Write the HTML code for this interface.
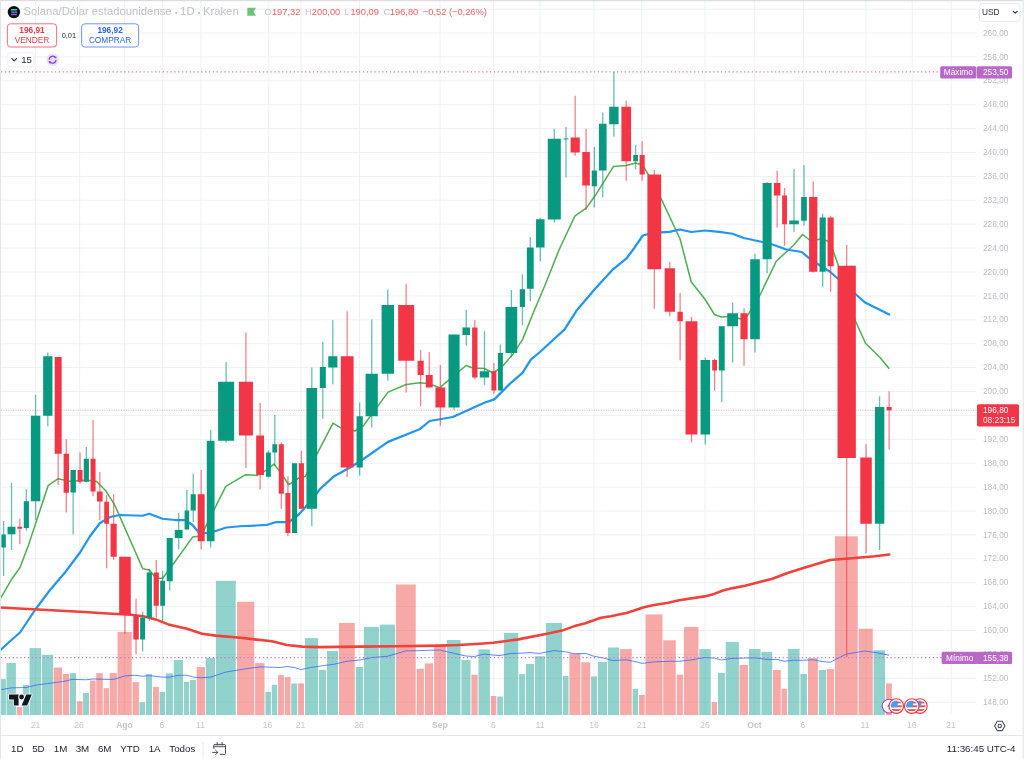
<!DOCTYPE html><html lang="es"><head><meta charset="utf-8"><title>SOLUSD</title>
<style>html,body{margin:0;padding:0;background:#fff;overflow:hidden}body{width:1024px;height:759px;position:relative}svg{position:absolute;left:0;top:0;display:block}text{font-family:"Liberation Sans",Arial,sans-serif}</style></head><body>
<svg width="1024" height="759" viewBox="0 0 1024 759">
<rect width="1024" height="759" fill="#fff"/>
<g stroke="#eef0f4" stroke-width="1">
<line x1="35.3" y1="1" x2="35.3" y2="715"/>
<line x1="79.7" y1="1" x2="79.7" y2="715"/>
<line x1="124.7" y1="1" x2="124.7" y2="715"/>
<line x1="162.3" y1="1" x2="162.3" y2="715"/>
<line x1="200.9" y1="1" x2="200.9" y2="715"/>
<line x1="268.2" y1="1" x2="268.2" y2="715"/>
<line x1="301" y1="1" x2="301" y2="715"/>
<line x1="359.4" y1="1" x2="359.4" y2="715"/>
<line x1="440" y1="1" x2="440" y2="715"/>
<line x1="493.6" y1="1" x2="493.6" y2="715"/>
<line x1="540" y1="1" x2="540" y2="715"/>
<line x1="594" y1="1" x2="594" y2="715"/>
<line x1="641.8" y1="1" x2="641.8" y2="715"/>
<line x1="705" y1="1" x2="705" y2="715"/>
<line x1="754.7" y1="1" x2="754.7" y2="715"/>
<line x1="803.7" y1="1" x2="803.7" y2="715"/>
<line x1="866" y1="1" x2="866" y2="715"/>
<line x1="912.2" y1="1" x2="912.2" y2="715"/>
<line x1="951.3" y1="1" x2="951.3" y2="715"/>
<line x1="1" y1="702.2" x2="976" y2="702.2"/>
<line x1="1" y1="678.3" x2="976" y2="678.3"/>
<line x1="1" y1="654.4" x2="976" y2="654.4"/>
<line x1="1" y1="630.5" x2="976" y2="630.5"/>
<line x1="1" y1="606.6" x2="976" y2="606.6"/>
<line x1="1" y1="582.7" x2="976" y2="582.7"/>
<line x1="1" y1="558.8" x2="976" y2="558.8"/>
<line x1="1" y1="534.9" x2="976" y2="534.9"/>
<line x1="1" y1="511" x2="976" y2="511"/>
<line x1="1" y1="487.1" x2="976" y2="487.1"/>
<line x1="1" y1="463.2" x2="976" y2="463.2"/>
<line x1="1" y1="439.3" x2="976" y2="439.3"/>
<line x1="1" y1="415.4" x2="976" y2="415.4"/>
<line x1="1" y1="391.5" x2="976" y2="391.5"/>
<line x1="1" y1="367.6" x2="976" y2="367.6"/>
<line x1="1" y1="343.7" x2="976" y2="343.7"/>
<line x1="1" y1="319.8" x2="976" y2="319.8"/>
<line x1="1" y1="295.9" x2="976" y2="295.9"/>
<line x1="1" y1="272" x2="976" y2="272"/>
<line x1="1" y1="248.1" x2="976" y2="248.1"/>
<line x1="1" y1="224.2" x2="976" y2="224.2"/>
<line x1="1" y1="200.3" x2="976" y2="200.3"/>
<line x1="1" y1="176.4" x2="976" y2="176.4"/>
<line x1="1" y1="152.5" x2="976" y2="152.5"/>
<line x1="1" y1="128.6" x2="976" y2="128.6"/>
<line x1="1" y1="104.7" x2="976" y2="104.7"/>
<line x1="1" y1="80.8" x2="976" y2="80.8"/>
<line x1="1" y1="56.9" x2="976" y2="56.9"/>
<line x1="1" y1="33" x2="976" y2="33"/>
<line x1="1" y1="9.1" x2="976" y2="9.1"/>
</g>
<g>
<rect x="1" y="679.1" width="4.9" height="35.9" fill="#26a69a" fill-opacity="0.5"/>
<rect x="6.5" y="662.9" width="9.4" height="52.1" fill="#26a69a" fill-opacity="0.5"/>
<rect x="16.7" y="707.1" width="5.6" height="7.9" fill="#ef5350" fill-opacity="0.5"/>
<rect x="23.1" y="685" width="5.9" height="30" fill="#26a69a" fill-opacity="0.5"/>
<rect x="29.6" y="648.1" width="11.4" height="66.9" fill="#26a69a" fill-opacity="0.5"/>
<rect x="41.9" y="655" width="11.2" height="60" fill="#26a69a" fill-opacity="0.5"/>
<rect x="53.75" y="667.5" width="8.25" height="47.5" fill="#ef5350" fill-opacity="0.5"/>
<rect x="62.9" y="674" width="6.2" height="41" fill="#ef5350" fill-opacity="0.5"/>
<rect x="69.75" y="673.1" width="6.25" height="41.9" fill="#26a69a" fill-opacity="0.5"/>
<rect x="76.9" y="701.2" width="5.7" height="13.8" fill="#ef5350" fill-opacity="0.5"/>
<rect x="83.1" y="692.9" width="5.9" height="22.1" fill="#26a69a" fill-opacity="0.5"/>
<rect x="89.9" y="680.6" width="5.7" height="34.4" fill="#ef5350" fill-opacity="0.5"/>
<rect x="96.25" y="673.1" width="6.5" height="41.9" fill="#ef5350" fill-opacity="0.5"/>
<rect x="103.6" y="688.1" width="5.4" height="26.9" fill="#ef5350" fill-opacity="0.5"/>
<rect x="109.75" y="672.9" width="7.15" height="42.1" fill="#ef5350" fill-opacity="0.5"/>
<rect x="117.6" y="631.9" width="14.15" height="83.1" fill="#ef5350" fill-opacity="0.5"/>
<rect x="132.6" y="682.1" width="6.3" height="32.9" fill="#ef5350" fill-opacity="0.5"/>
<rect x="139.5" y="702.25" width="5.6" height="12.75" fill="#26a69a" fill-opacity="0.5"/>
<rect x="146" y="674.1" width="6" height="40.9" fill="#26a69a" fill-opacity="0.5"/>
<rect x="153" y="686.9" width="5.9" height="28.1" fill="#ef5350" fill-opacity="0.5"/>
<rect x="159.6" y="691.9" width="5.4" height="23.1" fill="#26a69a" fill-opacity="0.5"/>
<rect x="165.9" y="673.4" width="7" height="41.6" fill="#26a69a" fill-opacity="0.5"/>
<rect x="173.75" y="660" width="9.25" height="55" fill="#26a69a" fill-opacity="0.5"/>
<rect x="184" y="681.9" width="5.1" height="33.1" fill="#26a69a" fill-opacity="0.5"/>
<rect x="190" y="680" width="5.9" height="35" fill="#26a69a" fill-opacity="0.5"/>
<rect x="196.75" y="667.1" width="8.25" height="47.9" fill="#ef5350" fill-opacity="0.5"/>
<rect x="205.75" y="658.1" width="9.25" height="56.9" fill="#26a69a" fill-opacity="0.5"/>
<rect x="215.9" y="580.75" width="19.85" height="134.25" fill="#26a69a" fill-opacity="0.5"/>
<rect x="237" y="601.75" width="17.25" height="113.25" fill="#ef5350" fill-opacity="0.5"/>
<rect x="255.1" y="663.1" width="9.4" height="51.9" fill="#ef5350" fill-opacity="0.5"/>
<rect x="265.4" y="691.9" width="5.5" height="23.1" fill="#26a69a" fill-opacity="0.5"/>
<rect x="271.75" y="684.75" width="5.5" height="30.25" fill="#26a69a" fill-opacity="0.5"/>
<rect x="278.1" y="675" width="5.8" height="40" fill="#ef5350" fill-opacity="0.5"/>
<rect x="284.75" y="677.1" width="5.75" height="37.9" fill="#ef5350" fill-opacity="0.5"/>
<rect x="291.25" y="683.5" width="6" height="31.5" fill="#26a69a" fill-opacity="0.5"/>
<rect x="298.1" y="683.4" width="5.9" height="31.6" fill="#ef5350" fill-opacity="0.5"/>
<rect x="305" y="638.1" width="13" height="76.9" fill="#26a69a" fill-opacity="0.5"/>
<rect x="319" y="670" width="7" height="45" fill="#26a69a" fill-opacity="0.5"/>
<rect x="327" y="651" width="11" height="64" fill="#26a69a" fill-opacity="0.5"/>
<rect x="339" y="622.9" width="15.75" height="92.1" fill="#ef5350" fill-opacity="0.5"/>
<rect x="355.75" y="667.1" width="7.25" height="47.9" fill="#26a69a" fill-opacity="0.5"/>
<rect x="363.9" y="626.9" width="15" height="88.1" fill="#26a69a" fill-opacity="0.5"/>
<rect x="379.9" y="624.6" width="15.2" height="90.4" fill="#26a69a" fill-opacity="0.5"/>
<rect x="396" y="584.5" width="19.75" height="130.5" fill="#ef5350" fill-opacity="0.5"/>
<rect x="416.75" y="668.75" width="7.15" height="46.25" fill="#ef5350" fill-opacity="0.5"/>
<rect x="424.9" y="663.4" width="8.1" height="51.6" fill="#ef5350" fill-opacity="0.5"/>
<rect x="434.1" y="646" width="11.9" height="69" fill="#ef5350" fill-opacity="0.5"/>
<rect x="447" y="640" width="13.5" height="75" fill="#26a69a" fill-opacity="0.5"/>
<rect x="461.4" y="660" width="9.1" height="55" fill="#26a69a" fill-opacity="0.5"/>
<rect x="471.4" y="674.75" width="6.2" height="40.25" fill="#ef5350" fill-opacity="0.5"/>
<rect x="478.5" y="649.4" width="11.4" height="65.6" fill="#26a69a" fill-opacity="0.5"/>
<rect x="490.75" y="696" width="5.65" height="19" fill="#ef5350" fill-opacity="0.5"/>
<rect x="497.25" y="696.5" width="5.65" height="18.5" fill="#26a69a" fill-opacity="0.5"/>
<rect x="503.9" y="632.9" width="14.35" height="82.1" fill="#26a69a" fill-opacity="0.5"/>
<rect x="519.1" y="674.1" width="6" height="40.9" fill="#26a69a" fill-opacity="0.5"/>
<rect x="526" y="664" width="8" height="51" fill="#26a69a" fill-opacity="0.5"/>
<rect x="534.9" y="656.25" width="10.2" height="58.75" fill="#26a69a" fill-opacity="0.5"/>
<rect x="546" y="622.9" width="16" height="92.1" fill="#26a69a" fill-opacity="0.5"/>
<rect x="562.9" y="675.9" width="5.6" height="39.1" fill="#26a69a" fill-opacity="0.5"/>
<rect x="569.4" y="653.75" width="11" height="61.25" fill="#ef5350" fill-opacity="0.5"/>
<rect x="581.25" y="662.25" width="9" height="52.75" fill="#ef5350" fill-opacity="0.5"/>
<rect x="591.1" y="676.4" width="5.9" height="38.6" fill="#26a69a" fill-opacity="0.5"/>
<rect x="597.9" y="661.9" width="9.1" height="53.1" fill="#26a69a" fill-opacity="0.5"/>
<rect x="607.9" y="647.5" width="11.35" height="67.5" fill="#26a69a" fill-opacity="0.5"/>
<rect x="620.1" y="649.1" width="11.65" height="65.9" fill="#ef5350" fill-opacity="0.5"/>
<rect x="632.6" y="688.75" width="5.4" height="26.25" fill="#26a69a" fill-opacity="0.5"/>
<rect x="638.9" y="695" width="5.85" height="20" fill="#ef5350" fill-opacity="0.5"/>
<rect x="645.5" y="614.4" width="17" height="100.6" fill="#ef5350" fill-opacity="0.5"/>
<rect x="663.25" y="640.25" width="12.5" height="74.75" fill="#ef5350" fill-opacity="0.5"/>
<rect x="676.75" y="674.6" width="6.15" height="40.4" fill="#ef5350" fill-opacity="0.5"/>
<rect x="683.9" y="626.9" width="14.6" height="88.1" fill="#ef5350" fill-opacity="0.5"/>
<rect x="699.25" y="649.1" width="11.5" height="65.9" fill="#26a69a" fill-opacity="0.5"/>
<rect x="711.6" y="702.1" width="5.4" height="12.9" fill="#ef5350" fill-opacity="0.5"/>
<rect x="718" y="672.9" width="6.9" height="42.1" fill="#26a69a" fill-opacity="0.5"/>
<rect x="725.75" y="641.9" width="13.15" height="73.1" fill="#26a69a" fill-opacity="0.5"/>
<rect x="739.5" y="665" width="8.5" height="50" fill="#ef5350" fill-opacity="0.5"/>
<rect x="748.9" y="649" width="11.6" height="66" fill="#26a69a" fill-opacity="0.5"/>
<rect x="761.4" y="651.9" width="10.85" height="63.1" fill="#26a69a" fill-opacity="0.5"/>
<rect x="773" y="670" width="7.75" height="45" fill="#ef5350" fill-opacity="0.5"/>
<rect x="781.5" y="688.75" width="5.5" height="26.25" fill="#ef5350" fill-opacity="0.5"/>
<rect x="787.9" y="649" width="11.6" height="66" fill="#26a69a" fill-opacity="0.5"/>
<rect x="800.4" y="674" width="6.6" height="41" fill="#26a69a" fill-opacity="0.5"/>
<rect x="808" y="658.1" width="9.9" height="56.9" fill="#ef5350" fill-opacity="0.5"/>
<rect x="818.75" y="670" width="7.25" height="45" fill="#26a69a" fill-opacity="0.5"/>
<rect x="826.75" y="669.1" width="7.15" height="45.9" fill="#ef5350" fill-opacity="0.5"/>
<rect x="835" y="536.25" width="22.75" height="178.75" fill="#ef5350" fill-opacity="0.5"/>
<rect x="858.75" y="628.75" width="14" height="86.25" fill="#ef5350" fill-opacity="0.5"/>
<rect x="873.6" y="650.25" width="11.4" height="64.75" fill="#26a69a" fill-opacity="0.5"/>
<rect x="885.9" y="683.4" width="5.85" height="31.6" fill="#ef5350" fill-opacity="0.5"/>
</g>
<path d="M1.25 689.6 L11.25 687.9 L26.25 687.5 L35 685.25 L47.5 683.5 L57.5 682.25 L66.25 680.9 L71.9 679.4 L86.25 679.75 L93 679 L100 679.1 L106.25 679.4 L113.75 679.4 L124.5 676 L134.5 675.25 L142.6 676.25 L149.5 675.6 L162 677.1 L169.5 677.1 L178.25 675.25 L187 675.25 L193.25 677.1 L200.75 677.75 L210.75 677.1 L225.75 672.1 L245.75 668.75 L260 666.9 L268.25 667.1 L280.75 667.5 L287 666.5 L294.5 667.5 L300.75 669.6 L310.75 667.5 L323.25 665.6 L333.25 664.4 L347 661.25 L359.5 660 L372 657.5 L387.6 656.25 L405.75 650.9 L420 650.6 L428.9 650.25 L439.5 650 L453.25 653.1 L465.75 656 L474.5 656.5 L483.9 654.1 L493.25 655 L500 655.6 L510.75 653.4 L522 653.1 L530 652.5 L539.5 653.4 L553.9 650.6 L565.75 651.9 L574.5 653.75 L585.75 653.4 L593.9 656.25 L602.6 657.9 L613.25 660.6 L625.75 659.75 L635 661.5 L642 663.4 L653.9 661.9 L669.5 661.25 L679.5 661.25 L690.75 660 L705.1 657.5 L714.5 658.1 L721.4 660 L732 658.4 L743.9 658.1 L754.5 657.75 L767 659.4 L777 659.4 L784.5 661.25 L793.25 660.25 L803.9 660.25 L813 659.75 L822 661.5 L830.25 662.25 L838.25 658.1 L846.5 654 L865.25 651 L879 653.1 L889 655.25" fill="none" stroke="#2962ff" stroke-width="1" stroke-opacity="0.75" stroke-linejoin="round"/>
<line x1="1" y1="71.8" x2="940" y2="71.8" stroke="#c47fd0" stroke-width="1.3" stroke-dasharray="1.3 2.55"/>
<line x1="1" y1="657.7" x2="942" y2="657.7" stroke="#c47fd0" stroke-width="1.3" stroke-dasharray="1.3 2.55"/>
<path d="M0 599.2 L11.6 579.3 L19.9 567.7 L28.2 546 L48.1 485.7 L58.1 478.7 L69.7 481.3 L86.3 480.3 L96.3 481.3 L106.2 491.3 L114.5 504.6 L142.8 568.7 L149.4 570 L156 578.3 L162.7 578.3 L172.6 565 L192.6 537.1 L200.9 536.1 L207.5 522.8 L225.8 486.3 L245.7 474.7 L257.3 475.4 L267.3 469.7 L273.9 464.1 L280.5 472.4 L288.8 484.7 L298.8 478 L305.4 476.4 L333 423.2 L343.2 429.3 L354.9 431 L363.2 426 L388 392.1 L406.3 384.5 L419.6 382.8 L429.6 383.8 L439.5 387.8 L466.1 365.5 L472.7 367.9 L484.3 368.5 L492.6 372.8 L500.9 367.9 L512.6 354.6 L522.5 339.6 L532.5 314.7 L545.8 283.2 L559 250 L574.8 216.2 L586.4 207.9 L594.7 196.3 L613.6 166.4 L626.2 165.4 L635.5 163.1 L642.2 164.7 L654.5 184.7 L680 238.75 L691.25 282 L705 299.25 L714.5 314.5 L721.25 317 L732.5 316.25 L743.75 320 L748.75 313.75 L760 295 L776.25 261.25 L793.75 245 L802.5 234.5 L811.25 241.25 L821.25 238.75 L830 242 L840 270 L855 320 L865.5 343.25 L880 357.5 L889.25 368.75" fill="none" stroke="#4fb054" stroke-width="1.55" stroke-linejoin="round"/>
<path d="M0 650.5 L10 641.25 L20 632.5 L27.5 621.25 L35 610 L50 590 L65 572.5 L80 552.5 L90 536.25 L100 523 L110 517 L120 515 L142.5 515.75 L149.25 513.75 L162.5 518.75 L175 520 L185 520 L192.5 525 L198.75 532.5 L207.5 533 L215 531.25 L226.25 527.5 L240 526.25 L256 525.5 L267.3 524.8 L275.6 522.2 L288.8 522.2 L298.8 514.5 L312.1 499.6 L320 489 L333.3 476.8 L349.9 467.5 L359.8 461.5 L388 441.9 L419.6 429.3 L429.6 421 L452.8 417 L466.1 411 L484.3 402.7 L494.3 399.4 L510.9 382.8 L522.5 372.8 L530.8 359.6 L540 352 L564.8 329.1 L576.4 310.8 L594.7 289.2 L613 269.3 L626.2 258.7 L634.5 247.7 L642.8 235.5 L652.8 232.8 L669.4 231.8 L680 229.5 L691.25 232 L705 230.5 L719.2 231.8 L732.5 233.75 L743.75 238 L762.5 242 L772.5 244.5 L786.25 249.5 L801.75 252 L811.25 260 L830 271.75 L865 302.5 L889.25 314.5" fill="none" stroke="#2196f3" stroke-width="2.25" stroke-linejoin="round" stroke-linecap="round"/>
<path d="M0 607.5 L33 609.2 L80 611.8 L112 613.75 L130.75 614.75 L143.25 616.25 L155.75 619.4 L168.25 624.4 L187 628.75 L202 633.75 L215.75 635.6 L240 637.75 L254.5 639.4 L272 641.25 L287 645 L302 646.6 L319.5 647.1 L360 646.6 L395.75 646.25 L439.5 645.6 L458 645 L480 643.75 L493.25 642.75 L518.25 639.4 L547 633.75 L562 630.6 L574.6 626.1 L585.4 623.2 L601 617.8 L610.8 616.2 L626.4 612.9 L634.2 610.5 L643 607.4 L652.7 605.2 L668.3 602.7 L679.1 600.3 L704.5 596.4 L714.2 593.9 L723 590.5 L732.8 588.1 L745 585.75 L772.5 578.75 L787.5 573 L805 567.5 L830 560 L855 558 L875 556.25 L889.25 554.5" fill="none" stroke="#f0423a" stroke-width="2.6" stroke-linejoin="round" stroke-linecap="round"/>
<g>
<line x1="3.6" y1="521" x2="3.6" y2="576" stroke="#089981" stroke-width="1.3" stroke-opacity="0.62"/>
<rect x="1.4" y="534.5" width="4.4" height="13" fill="#089981"/>
<line x1="11.5" y1="483" x2="11.5" y2="550" stroke="#089981" stroke-width="1.3" stroke-opacity="0.62"/>
<rect x="7.56" y="526.75" width="7.88" height="7.5" fill="#089981"/>
<line x1="19.8" y1="518.75" x2="19.8" y2="544.25" stroke="#f23645" stroke-width="1.3" stroke-opacity="0.62"/>
<rect x="17.34" y="526.75" width="4.92" height="2" fill="#f23645"/>
<line x1="26.35" y1="489.25" x2="26.35" y2="530.75" stroke="#089981" stroke-width="1.3" stroke-opacity="0.62"/>
<rect x="23.77" y="501.25" width="5.15" height="26.75" fill="#089981"/>
<line x1="35.6" y1="395" x2="35.6" y2="520" stroke="#089981" stroke-width="1.3" stroke-opacity="0.62"/>
<rect x="30.88" y="415.75" width="9.44" height="85.5" fill="#089981"/>
<line x1="47.8" y1="352.5" x2="47.8" y2="426.25" stroke="#089981" stroke-width="1.3" stroke-opacity="0.62"/>
<rect x="43.16" y="356.25" width="9.29" height="59.5" fill="#089981"/>
<line x1="58.17" y1="357" x2="58.17" y2="485" stroke="#f23645" stroke-width="1.3" stroke-opacity="0.62"/>
<rect x="54.68" y="357" width="6.99" height="96.75" fill="#f23645"/>
<line x1="66.3" y1="439.25" x2="66.3" y2="512.5" stroke="#f23645" stroke-width="1.3" stroke-opacity="0.62"/>
<rect x="63.61" y="453.75" width="5.39" height="39" fill="#f23645"/>
<line x1="73.17" y1="470" x2="73.17" y2="534.5" stroke="#089981" stroke-width="1.3" stroke-opacity="0.62"/>
<rect x="70.46" y="470" width="5.42" height="22.5" fill="#089981"/>
<line x1="80.05" y1="452.5" x2="80.05" y2="483.75" stroke="#f23645" stroke-width="1.3" stroke-opacity="0.62"/>
<rect x="77.55" y="470" width="5" height="11.75" fill="#f23645"/>
<line x1="86.35" y1="447" x2="86.35" y2="482" stroke="#089981" stroke-width="1.3" stroke-opacity="0.62"/>
<rect x="83.77" y="458.75" width="5.15" height="23" fill="#089981"/>
<line x1="93.05" y1="420" x2="93.05" y2="496.25" stroke="#f23645" stroke-width="1.3" stroke-opacity="0.62"/>
<rect x="90.55" y="458.75" width="5" height="32.75" fill="#f23645"/>
<line x1="99.8" y1="472" x2="99.8" y2="520" stroke="#f23645" stroke-width="1.3" stroke-opacity="0.62"/>
<rect x="96.99" y="491.5" width="5.62" height="10" fill="#f23645"/>
<line x1="106.6" y1="495" x2="106.6" y2="568.25" stroke="#f23645" stroke-width="1.3" stroke-opacity="0.62"/>
<rect x="104.22" y="501.75" width="4.76" height="22" fill="#f23645"/>
<line x1="113.62" y1="494.25" x2="113.62" y2="560" stroke="#f23645" stroke-width="1.3" stroke-opacity="0.62"/>
<rect x="110.56" y="523.75" width="6.13" height="33" fill="#f23645"/>
<line x1="124.97" y1="556.75" x2="124.97" y2="634" stroke="#f23645" stroke-width="1.3" stroke-opacity="0.62"/>
<rect x="119.18" y="556.75" width="11.59" height="58.25" fill="#f23645"/>
<line x1="136.05" y1="598.75" x2="136.05" y2="654" stroke="#f23645" stroke-width="1.3" stroke-opacity="0.62"/>
<rect x="133.32" y="615" width="5.46" height="24.5" fill="#f23645"/>
<line x1="142.6" y1="612" x2="142.6" y2="651.5" stroke="#089981" stroke-width="1.3" stroke-opacity="0.62"/>
<rect x="140.14" y="617.5" width="4.92" height="22" fill="#089981"/>
<line x1="149.3" y1="568.75" x2="149.3" y2="621.25" stroke="#089981" stroke-width="1.3" stroke-opacity="0.62"/>
<rect x="146.69" y="572.5" width="5.23" height="45" fill="#089981"/>
<line x1="156.25" y1="560" x2="156.25" y2="617.5" stroke="#f23645" stroke-width="1.3" stroke-opacity="0.62"/>
<rect x="153.67" y="572.5" width="5.15" height="33.25" fill="#f23645"/>
<line x1="162.6" y1="570.75" x2="162.6" y2="621.25" stroke="#089981" stroke-width="1.3" stroke-opacity="0.62"/>
<rect x="160.22" y="580.75" width="4.76" height="25" fill="#089981"/>
<line x1="169.7" y1="538" x2="169.7" y2="590.5" stroke="#089981" stroke-width="1.3" stroke-opacity="0.62"/>
<rect x="166.7" y="538" width="6.01" height="43.25" fill="#089981"/>
<line x1="178.68" y1="513" x2="178.68" y2="549.25" stroke="#089981" stroke-width="1.3" stroke-opacity="0.62"/>
<rect x="174.79" y="530" width="7.76" height="8" fill="#089981"/>
<line x1="186.85" y1="490" x2="186.85" y2="529.5" stroke="#089981" stroke-width="1.3" stroke-opacity="0.62"/>
<rect x="184.59" y="510.5" width="4.53" height="19" fill="#089981"/>
<line x1="193.25" y1="473.75" x2="193.25" y2="521.75" stroke="#089981" stroke-width="1.3" stroke-opacity="0.62"/>
<rect x="190.67" y="494.25" width="5.15" height="16.25" fill="#089981"/>
<line x1="201.18" y1="470" x2="201.18" y2="549.5" stroke="#f23645" stroke-width="1.3" stroke-opacity="0.62"/>
<rect x="197.68" y="494.25" width="6.99" height="47" fill="#f23645"/>
<line x1="210.68" y1="430" x2="210.68" y2="547.5" stroke="#089981" stroke-width="1.3" stroke-opacity="0.62"/>
<rect x="206.79" y="440.75" width="7.76" height="100.5" fill="#089981"/>
<line x1="226.12" y1="362" x2="226.12" y2="442.5" stroke="#089981" stroke-width="1.3" stroke-opacity="0.62"/>
<rect x="218.11" y="381.75" width="16.03" height="59" fill="#089981"/>
<line x1="245.93" y1="332.5" x2="245.93" y2="468" stroke="#f23645" stroke-width="1.3" stroke-opacity="0.62"/>
<rect x="238.92" y="381.75" width="14.01" height="53.75" fill="#f23645"/>
<line x1="260.1" y1="403" x2="260.1" y2="489.5" stroke="#f23645" stroke-width="1.3" stroke-opacity="0.62"/>
<rect x="256.16" y="435.5" width="7.88" height="39.5" fill="#f23645"/>
<line x1="268.45" y1="450.5" x2="268.45" y2="477.5" stroke="#089981" stroke-width="1.3" stroke-opacity="0.62"/>
<rect x="266.03" y="452.5" width="4.84" height="24.25" fill="#089981"/>
<line x1="274.8" y1="415" x2="274.8" y2="466" stroke="#089981" stroke-width="1.3" stroke-opacity="0.62"/>
<rect x="272.38" y="444.25" width="4.84" height="8.25" fill="#089981"/>
<line x1="281.3" y1="442.5" x2="281.3" y2="508.75" stroke="#f23645" stroke-width="1.3" stroke-opacity="0.62"/>
<rect x="278.76" y="444.25" width="5.07" height="49.5" fill="#f23645"/>
<line x1="287.93" y1="476.25" x2="287.93" y2="536.25" stroke="#f23645" stroke-width="1.3" stroke-opacity="0.62"/>
<rect x="285.41" y="493" width="5.04" height="40" fill="#f23645"/>
<line x1="294.55" y1="463.25" x2="294.55" y2="533" stroke="#089981" stroke-width="1.3" stroke-opacity="0.62"/>
<rect x="291.94" y="463.25" width="5.23" height="69.75" fill="#089981"/>
<line x1="301.35" y1="450.75" x2="301.35" y2="508.75" stroke="#f23645" stroke-width="1.3" stroke-opacity="0.62"/>
<rect x="298.77" y="463.25" width="5.15" height="45.5" fill="#f23645"/>
<line x1="311.8" y1="367.5" x2="311.8" y2="526.25" stroke="#089981" stroke-width="1.3" stroke-opacity="0.62"/>
<rect x="306.45" y="388" width="10.69" height="120.75" fill="#089981"/>
<line x1="322.8" y1="341.75" x2="322.8" y2="418.75" stroke="#089981" stroke-width="1.3" stroke-opacity="0.62"/>
<rect x="319.8" y="367" width="6.01" height="21" fill="#089981"/>
<line x1="332.8" y1="320" x2="332.8" y2="384.5" stroke="#089981" stroke-width="1.3" stroke-opacity="0.62"/>
<rect x="328.24" y="356.25" width="9.13" height="11.25" fill="#089981"/>
<line x1="347.18" y1="311.25" x2="347.18" y2="477" stroke="#f23645" stroke-width="1.3" stroke-opacity="0.62"/>
<rect x="340.76" y="356.25" width="12.84" height="111.25" fill="#f23645"/>
<line x1="359.68" y1="402.5" x2="359.68" y2="475.5" stroke="#089981" stroke-width="1.3" stroke-opacity="0.62"/>
<rect x="356.57" y="416.25" width="6.21" height="51.25" fill="#089981"/>
<line x1="371.7" y1="319.5" x2="371.7" y2="427.5" stroke="#089981" stroke-width="1.3" stroke-opacity="0.62"/>
<rect x="365.57" y="373.75" width="12.25" height="42.5" fill="#089981"/>
<line x1="387.8" y1="289.5" x2="387.8" y2="380.75" stroke="#089981" stroke-width="1.3" stroke-opacity="0.62"/>
<rect x="381.6" y="305" width="12.41" height="68.75" fill="#089981"/>
<line x1="406.18" y1="283.75" x2="406.18" y2="392.5" stroke="#f23645" stroke-width="1.3" stroke-opacity="0.62"/>
<rect x="398.2" y="305" width="15.96" height="55.75" fill="#f23645"/>
<line x1="420.62" y1="350" x2="420.62" y2="406.25" stroke="#f23645" stroke-width="1.3" stroke-opacity="0.62"/>
<rect x="417.56" y="360.75" width="6.13" height="14.25" fill="#f23645"/>
<line x1="429.25" y1="352" x2="429.25" y2="387.5" stroke="#f23645" stroke-width="1.3" stroke-opacity="0.62"/>
<rect x="425.82" y="375" width="6.87" height="12.5" fill="#f23645"/>
<line x1="440.35" y1="365" x2="440.35" y2="426.25" stroke="#f23645" stroke-width="1.3" stroke-opacity="0.62"/>
<rect x="435.43" y="387.5" width="9.83" height="20" fill="#f23645"/>
<line x1="454.05" y1="334.5" x2="454.05" y2="410" stroke="#089981" stroke-width="1.3" stroke-opacity="0.62"/>
<rect x="448.51" y="334.5" width="11.08" height="73" fill="#089981"/>
<line x1="466.25" y1="310" x2="466.25" y2="345.5" stroke="#089981" stroke-width="1.3" stroke-opacity="0.62"/>
<rect x="462.43" y="327.5" width="7.65" height="7.5" fill="#089981"/>
<line x1="474.8" y1="320" x2="474.8" y2="379.25" stroke="#f23645" stroke-width="1.3" stroke-opacity="0.62"/>
<rect x="472.11" y="327.5" width="5.39" height="50" fill="#f23645"/>
<line x1="484.5" y1="331.25" x2="484.5" y2="385" stroke="#089981" stroke-width="1.3" stroke-opacity="0.62"/>
<rect x="479.78" y="371.25" width="9.44" height="6.25" fill="#089981"/>
<line x1="493.88" y1="363" x2="493.88" y2="393.75" stroke="#f23645" stroke-width="1.3" stroke-opacity="0.62"/>
<rect x="491.4" y="371.25" width="4.96" height="19.25" fill="#f23645"/>
<line x1="500.38" y1="344.5" x2="500.38" y2="390.5" stroke="#089981" stroke-width="1.3" stroke-opacity="0.62"/>
<rect x="497.9" y="353" width="4.96" height="37.5" fill="#089981"/>
<line x1="511.38" y1="290" x2="511.38" y2="357.5" stroke="#089981" stroke-width="1.3" stroke-opacity="0.62"/>
<rect x="505.5" y="307" width="11.74" height="46" fill="#089981"/>
<line x1="522.4" y1="274.25" x2="522.4" y2="325" stroke="#089981" stroke-width="1.3" stroke-opacity="0.62"/>
<rect x="519.78" y="289.25" width="5.23" height="17.75" fill="#089981"/>
<line x1="530.3" y1="237" x2="530.3" y2="301.25" stroke="#089981" stroke-width="1.3" stroke-opacity="0.62"/>
<rect x="526.9" y="247.5" width="6.79" height="41.25" fill="#089981"/>
<line x1="540.3" y1="218" x2="540.3" y2="261.25" stroke="#089981" stroke-width="1.3" stroke-opacity="0.62"/>
<rect x="536.05" y="219.25" width="8.51" height="28.25" fill="#089981"/>
<line x1="554.3" y1="128.75" x2="554.3" y2="222.5" stroke="#089981" stroke-width="1.3" stroke-opacity="0.62"/>
<rect x="547.78" y="138.75" width="13.03" height="80.75" fill="#089981"/>
<line x1="566" y1="127" x2="566" y2="177.5" stroke="#089981" stroke-width="1.3" stroke-opacity="0.62"/>
<rect x="563.54" y="138.4" width="4.92" height="1" fill="#089981"/>
<line x1="575.2" y1="95.75" x2="575.2" y2="155.75" stroke="#f23645" stroke-width="1.3" stroke-opacity="0.62"/>
<rect x="570.63" y="137.5" width="9.13" height="15" fill="#f23645"/>
<line x1="586.05" y1="128.75" x2="586.05" y2="210" stroke="#f23645" stroke-width="1.3" stroke-opacity="0.62"/>
<rect x="582.26" y="152" width="7.57" height="33.5" fill="#f23645"/>
<line x1="594.35" y1="147" x2="594.35" y2="207.5" stroke="#089981" stroke-width="1.3" stroke-opacity="0.62"/>
<rect x="591.77" y="170.5" width="5.15" height="15.75" fill="#089981"/>
<line x1="602.75" y1="112.5" x2="602.75" y2="197.5" stroke="#089981" stroke-width="1.3" stroke-opacity="0.62"/>
<rect x="598.93" y="123.75" width="7.65" height="46.75" fill="#089981"/>
<line x1="613.88" y1="71.75" x2="613.88" y2="136.75" stroke="#089981" stroke-width="1.3" stroke-opacity="0.62"/>
<rect x="609.17" y="106.75" width="9.4" height="17.5" fill="#089981"/>
<line x1="626.22" y1="100.75" x2="626.22" y2="180.75" stroke="#f23645" stroke-width="1.3" stroke-opacity="0.62"/>
<rect x="621.41" y="106.75" width="9.64" height="54.5" fill="#f23645"/>
<line x1="635.6" y1="145" x2="635.6" y2="169.25" stroke="#089981" stroke-width="1.3" stroke-opacity="0.62"/>
<rect x="633.22" y="155" width="4.76" height="6.25" fill="#089981"/>
<line x1="642.12" y1="141.25" x2="642.12" y2="180.75" stroke="#f23645" stroke-width="1.3" stroke-opacity="0.62"/>
<rect x="639.57" y="155" width="5.11" height="19.5" fill="#f23645"/>
<line x1="654.3" y1="170" x2="654.3" y2="308.75" stroke="#f23645" stroke-width="1.3" stroke-opacity="0.62"/>
<rect x="647.39" y="174.5" width="13.81" height="94.75" fill="#f23645"/>
<line x1="669.8" y1="262" x2="669.8" y2="316.25" stroke="#f23645" stroke-width="1.3" stroke-opacity="0.62"/>
<rect x="664.65" y="268.25" width="10.3" height="43.5" fill="#f23645"/>
<line x1="680.12" y1="293" x2="680.12" y2="360.5" stroke="#f23645" stroke-width="1.3" stroke-opacity="0.62"/>
<rect x="677.45" y="311.75" width="5.35" height="9.5" fill="#f23645"/>
<line x1="691.5" y1="317" x2="691.5" y2="442.5" stroke="#f23645" stroke-width="1.3" stroke-opacity="0.62"/>
<rect x="685.53" y="321.25" width="11.94" height="113.25" fill="#f23645"/>
<line x1="705.3" y1="357.5" x2="705.3" y2="444.5" stroke="#089981" stroke-width="1.3" stroke-opacity="0.62"/>
<rect x="700.54" y="360" width="9.52" height="74.5" fill="#089981"/>
<line x1="714.6" y1="358.75" x2="714.6" y2="390.75" stroke="#f23645" stroke-width="1.3" stroke-opacity="0.62"/>
<rect x="712.22" y="360" width="4.76" height="10.5" fill="#f23645"/>
<line x1="721.75" y1="326.25" x2="721.75" y2="402" stroke="#089981" stroke-width="1.3" stroke-opacity="0.62"/>
<rect x="718.78" y="326.25" width="5.93" height="44.25" fill="#089981"/>
<line x1="732.62" y1="302.5" x2="732.62" y2="362.5" stroke="#089981" stroke-width="1.3" stroke-opacity="0.62"/>
<rect x="727.22" y="313.25" width="10.81" height="13" fill="#089981"/>
<line x1="744.05" y1="308.25" x2="744.05" y2="365.75" stroke="#f23645" stroke-width="1.3" stroke-opacity="0.62"/>
<rect x="740.46" y="313.25" width="7.18" height="26" fill="#f23645"/>
<line x1="755" y1="253.75" x2="755" y2="352.5" stroke="#089981" stroke-width="1.3" stroke-opacity="0.62"/>
<rect x="750.2" y="259.25" width="9.6" height="80" fill="#089981"/>
<line x1="767.12" y1="182" x2="767.12" y2="273.25" stroke="#089981" stroke-width="1.3" stroke-opacity="0.62"/>
<rect x="762.62" y="183" width="9.01" height="76.25" fill="#089981"/>
<line x1="777.17" y1="170.75" x2="777.17" y2="227.5" stroke="#f23645" stroke-width="1.3" stroke-opacity="0.62"/>
<rect x="773.88" y="183" width="6.59" height="12.5" fill="#f23645"/>
<line x1="784.55" y1="188" x2="784.55" y2="245.75" stroke="#f23645" stroke-width="1.3" stroke-opacity="0.62"/>
<rect x="782.13" y="195.5" width="4.84" height="28.75" fill="#f23645"/>
<line x1="794" y1="168.75" x2="794" y2="232" stroke="#089981" stroke-width="1.3" stroke-opacity="0.62"/>
<rect x="789.2" y="220.5" width="9.6" height="3.75" fill="#089981"/>
<line x1="804" y1="165" x2="804" y2="225.5" stroke="#089981" stroke-width="1.3" stroke-opacity="0.62"/>
<rect x="801.15" y="197" width="5.7" height="23.75" fill="#089981"/>
<line x1="813.25" y1="181.25" x2="813.25" y2="272.5" stroke="#f23645" stroke-width="1.3" stroke-opacity="0.62"/>
<rect x="809.11" y="197" width="8.27" height="74.75" fill="#f23645"/>
<line x1="822.67" y1="213.75" x2="822.67" y2="286.75" stroke="#089981" stroke-width="1.3" stroke-opacity="0.62"/>
<rect x="819.57" y="217.5" width="6.21" height="54.25" fill="#089981"/>
<line x1="830.62" y1="215.75" x2="830.62" y2="291.75" stroke="#f23645" stroke-width="1.3" stroke-opacity="0.62"/>
<rect x="827.56" y="217.5" width="6.13" height="48.75" fill="#f23645"/>
<line x1="846.67" y1="245" x2="846.67" y2="657" stroke="#f23645" stroke-width="1.3" stroke-opacity="0.62"/>
<rect x="837.53" y="265.75" width="18.3" height="192.25" fill="#f23645"/>
<line x1="866.05" y1="444.25" x2="866.05" y2="553.25" stroke="#f23645" stroke-width="1.3" stroke-opacity="0.62"/>
<rect x="860.31" y="457.5" width="11.47" height="66.25" fill="#f23645"/>
<line x1="879.6" y1="396.25" x2="879.6" y2="550" stroke="#089981" stroke-width="1.3" stroke-opacity="0.62"/>
<rect x="874.88" y="407" width="9.44" height="116.75" fill="#089981"/>
<line x1="889.12" y1="391.25" x2="889.12" y2="449.5" stroke="#f23645" stroke-width="1.3" stroke-opacity="0.62"/>
<rect x="886.57" y="407" width="5.11" height="3.3" fill="#f23645"/>
</g>
<line x1="1" y1="410.3" x2="977" y2="410.3" stroke="#f23645" stroke-width="0.8" stroke-opacity="0.55" stroke-dasharray="1 1.4"/>
<g font-size="8.3" fill="#b9bcc6">
<text x="983" y="704.8">148,00</text>
<text x="983" y="680.9">152,00</text>
<text x="983" y="657">156,00</text>
<text x="983" y="633.1">160,00</text>
<text x="983" y="609.2">164,00</text>
<text x="983" y="585.3">168,00</text>
<text x="983" y="561.4">172,00</text>
<text x="983" y="537.5">176,00</text>
<text x="983" y="513.6">180,00</text>
<text x="983" y="489.7">184,00</text>
<text x="983" y="465.8">188,00</text>
<text x="983" y="441.9">192,00</text>
<text x="983" y="418">196,00</text>
<text x="983" y="394.1">200,00</text>
<text x="983" y="370.2">204,00</text>
<text x="983" y="346.3">208,00</text>
<text x="983" y="322.4">212,00</text>
<text x="983" y="298.5">216,00</text>
<text x="983" y="274.6">220,00</text>
<text x="983" y="250.7">224,00</text>
<text x="983" y="226.8">228,00</text>
<text x="983" y="202.9">232,00</text>
<text x="983" y="179">236,00</text>
<text x="983" y="155.1">240,00</text>
<text x="983" y="131.2">244,00</text>
<text x="983" y="107.3">248,00</text>
<text x="983" y="83.4">252,00</text>
<text x="983" y="59.5">256,00</text>
<text x="983" y="35.6">260,00</text>
</g>
<rect x="940.2" y="66.2" width="36.2" height="12.2" rx="1.5" fill="#ba68c8"/>
<rect x="976.8" y="66.2" width="35.3" height="12.2" rx="1.5" fill="#ba68c8"/>
<text x="958.3" y="75.3" font-size="8.3" fill="#fff" text-anchor="middle">Máximo</text>
<text x="983" y="75.3" font-size="8.3" fill="#fff">253,50</text>
<rect x="941.6" y="651.7" width="36.2" height="12.2" rx="1.5" fill="#ba68c8"/>
<rect x="976.8" y="651.7" width="35.3" height="12.2" rx="1.5" fill="#ba68c8"/>
<text x="959.7" y="660.8" font-size="8.3" fill="#fff" text-anchor="middle">Mínimo</text>
<text x="983" y="660.8" font-size="8.3" fill="#fff">155,38</text>
<rect x="977" y="404.2" width="42" height="22.4" rx="1.5" fill="#f23645"/>
<text x="983" y="413.3" font-size="8.3" fill="#fff">196,80</text>
<text x="983" y="423.3" font-size="8.3" fill="#fff" fill-opacity="0.9">08:23:15</text>
<rect x="979.5" y="3.5" width="40.5" height="18" rx="3" fill="#fff" stroke="#e6e8ee" stroke-width="1"/>
<text x="982" y="15.3" font-size="8.3" fill="#2a2e39">USD</text>
<path d="M1013.3 11.3 L1015.2 13.2 L1017.1 11.3" fill="none" stroke="#2a2e39" stroke-width="1.1" stroke-linecap="round" stroke-linejoin="round"/>
<g font-size="8.6" fill="#c3c6cf" text-anchor="middle">
<text x="35.5" y="728.4">21</text>
<text x="79" y="728.4">26</text>
<text x="162" y="728.4">6</text>
<text x="200.5" y="728.4">11</text>
<text x="267.6" y="728.4">16</text>
<text x="300.5" y="728.4">21</text>
<text x="359" y="728.4">26</text>
<text x="493.3" y="728.4">6</text>
<text x="540" y="728.4">11</text>
<text x="594" y="728.4">16</text>
<text x="641.8" y="728.4">21</text>
<text x="704.9" y="728.4">26</text>
<text x="802.9" y="728.4">6</text>
<text x="865" y="728.4">11</text>
<text x="911.8" y="728.4">16</text>
<text x="950.8" y="728.4">21</text>
<text x="124.5" y="728.4" font-weight="bold">Ago</text>
<text x="440" y="728.4" font-weight="bold">Sep</text>
<text x="754.4" y="728.4" font-weight="bold">Oct</text>
</g>
<g stroke="#4a4e5a" fill="none" stroke-width="1.1"><path d="M994.6 725.9 L997.2 721.2 L1002.3 721.2 L1004.9 725.9 L1002.3 730.6 L997.2 730.6 Z" stroke-linejoin="round"/><circle cx="999.75" cy="725.9" r="1.7"/></g>
<rect x="0" y="735" width="1024" height="1" fill="#e4e6ec"/>
<g font-size="9.75" fill="#1c2030">
<text x="11" y="751.9">1D</text>
<text x="32.2" y="751.9">5D</text>
<text x="53.8" y="751.9">1M</text>
<text x="75.7" y="751.9">3M</text>
<text x="97.9" y="751.9">6M</text>
<text x="120.2" y="751.9">YTD</text>
<text x="148.7" y="751.9">1A</text>
<text x="169.3" y="751.9">Todos</text>
<text x="1015.5" y="751.9" text-anchor="end">11:36:45 UTC-4</text>
</g>
<rect x="202.6" y="742" width="1" height="14.8" fill="#e6e8ee"/>
<g stroke="#4a4e5a" fill="none" stroke-width="1" stroke-linecap="round" stroke-linejoin="round"><path d="M213.8 748.4 V745.6 Q213.8 744.4 215 744.4 H224.3 Q225.5 744.4 225.5 745.6 V753.2 Q225.5 754.4 224.3 754.4 H220.2"/><path d="M213.8 746.6 H225.5" stroke-width="1.5" stroke-opacity="0.75"/><path d="M217.2 742.5 V745 M222.1 742.5 V745"/><path d="M212.6 752.4 H217.6 M215.6 750.2 L217.8 752.4 L215.6 754.6"/></g>
<circle cx="13.9" cy="12.1" r="6.2" fill="#0b0b10"/>
<g><path d="M11.3 9 H17.4 L16.6 10.4 H10.5 Z" fill="#19e0a3"/><path d="M10.9 11.4 H17 L17.6 12.8 H11.5 Z" fill="#5f9df0"/><path d="M11.3 13.8 H17.4 L16.6 15.2 H10.5 Z" fill="#9a55ff"/></g>
<g font-size="11.3" fill="#bfc2cb"><text x="23.4" y="15.1">Solana/Dólar estadounidense</text><text x="180.1" y="15.1">1D</text><text x="202.9" y="15.1">Kraken</text></g>
<rect x="175.3" y="12.1" width="1.7" height="1.7" fill="#b4b7c0"/><rect x="198.2" y="12.1" width="1.7" height="1.7" fill="#b4b7c0"/>
<path d="M247.3 7.8 H256 L253.6 11.8 L256 15.8 H247.3 Z" fill="#6fc27a"/>
<g font-size="9.3">
<text x="264.4" y="14.9" fill="#c3c6cf">O</text>
<text x="305" y="14.9" fill="#c3c6cf">H</text>
<text x="344.3" y="14.9" fill="#c3c6cf">L</text>
<text x="383.4" y="14.9" fill="#c3c6cf">C</text>
<text x="271.9" y="14.9" fill="#f5606b">197,32</text>
<text x="311.8" y="14.9" fill="#f5606b">200,00</text>
<text x="350.4" y="14.9" fill="#f5606b">190,09</text>
<text x="389.8" y="14.9" fill="#f5606b">196,80</text>
<text x="422.8" y="14.9" fill="#f5606b">−0,52 (−0,26%)</text>
</g>
<rect x="7.4" y="23.8" width="49.2" height="23.2" rx="3.2" fill="#fff" stroke="#f6727c" stroke-width="1"/>
<text x="32" y="33.4" font-size="8.3" font-weight="bold" fill="#f23645" text-anchor="middle">196,91</text>
<text x="32" y="42.9" font-size="8.3" fill="#f23645" text-anchor="middle">VENDER</text>
<text x="68.9" y="38.2" font-size="7.4" fill="#2a2e39" text-anchor="middle">0,01</text>
<rect x="81.6" y="23.8" width="57" height="23.2" rx="3.2" fill="#fff" stroke="#6f95ff" stroke-width="1"/>
<text x="110.1" y="33.4" font-size="8.3" font-weight="bold" fill="#2962ff" text-anchor="middle">196,92</text>
<text x="110.1" y="42.9" font-size="8.3" fill="#2962ff" text-anchor="middle">COMPRAR</text>
<rect x="7.8" y="52.8" width="26.2" height="14" rx="2" fill="#fff" stroke="#eceef2" stroke-width="1"/>
<path d="M11.9 58.6 L14.2 60.8 L16.5 58.6" fill="none" stroke="#2a2e39" stroke-width="1.1" stroke-linecap="round" stroke-linejoin="round"/>
<text x="21.2" y="63.2" font-size="9.6" fill="#2a2e39">15</text>
<circle cx="52.6" cy="59.7" r="6.3" fill="#ebe0fc"/>
<g fill="none" stroke="#7c3cf0" stroke-width="1.3" stroke-linecap="round"><path d="M49.2 59 A3.5 3.5 0 0 1 55.4 57.6"/><path d="M56 60.4 A3.5 3.5 0 0 1 49.8 61.8"/></g>
<path d="M54.2 57.9 L56.4 58.3 L56.2 56 Z M51 61.5 L48.8 61.1 L49 63.4 Z" fill="#7c3cf0"/>
<g stroke="#fff" stroke-width="1.6" stroke-linejoin="round" paint-order="stroke" fill="#131722"><path d="M9 694.6 H18.6 V705.4 H13.8 V699.4 H9 Z"/><circle cx="21.6" cy="697" r="2.4"/><path d="M26.2 694.6 H31.8 L27.2 705.4 H21.6 Z"/></g>
<circle cx="889.1" cy="706.1" r="6.9" fill="#fff" stroke="#ab47bc" stroke-width="1.1"/>
<path d="M890.3 702.4 L887 706.8 H889.2 L888.2 710 L891.6 705.4 H889.4 Z" fill="#ab47bc"/>
<clipPath id="fc3"><circle cx="919.9" cy="706.1" r="5.6"/></clipPath>
<circle cx="919.9" cy="706.1" r="7.3" fill="#fff" stroke="#f23645" stroke-width="1.1"/>
<g clip-path="url(#fc3)">
<rect x="913.9" y="700.1" width="12" height="12" fill="#fff"/>
<rect x="913.9" y="701.6" width="12" height="1.75" fill="#f0453f"/>
<rect x="913.9" y="705.4" width="12" height="1.75" fill="#f0453f"/>
<rect x="913.9" y="709.2" width="12" height="1.75" fill="#f0453f"/>
<rect x="913.9" y="700.1" width="7.4" height="7.2" fill="#4a9df0"/>
</g>
<clipPath id="fc2"><circle cx="911.7" cy="706.1" r="5.6"/></clipPath>
<circle cx="911.7" cy="706.1" r="7.3" fill="#fff" stroke="#f23645" stroke-width="1.1"/>
<g clip-path="url(#fc2)">
<rect x="905.7" y="700.1" width="12" height="12" fill="#fff"/>
<rect x="905.7" y="701.6" width="12" height="1.75" fill="#f0453f"/>
<rect x="905.7" y="705.4" width="12" height="1.75" fill="#f0453f"/>
<rect x="905.7" y="709.2" width="12" height="1.75" fill="#f0453f"/>
<rect x="905.7" y="700.1" width="7.4" height="7.2" fill="#4a9df0"/>
</g>
<clipPath id="fc1"><circle cx="896.3" cy="706.1" r="5.6"/></clipPath>
<circle cx="896.3" cy="706.1" r="7.3" fill="#fff" stroke="#f23645" stroke-width="1.1"/>
<g clip-path="url(#fc1)">
<rect x="890.3" y="700.1" width="12" height="12" fill="#fff"/>
<rect x="890.3" y="701.6" width="12" height="1.75" fill="#f0453f"/>
<rect x="890.3" y="705.4" width="12" height="1.75" fill="#f0453f"/>
<rect x="890.3" y="709.2" width="12" height="1.75" fill="#f0453f"/>
<rect x="890.3" y="700.1" width="7.4" height="7.2" fill="#4a9df0"/>
</g>
<rect x="0" y="0" width="1024" height="1.2" fill="#dcdde0"/>
<rect x="0" y="0" width="1" height="759" fill="#e3e5ea"/>
<rect x="1022.6" y="0" width="1.4" height="759" fill="#e9eaee"/>
</svg></body></html>
